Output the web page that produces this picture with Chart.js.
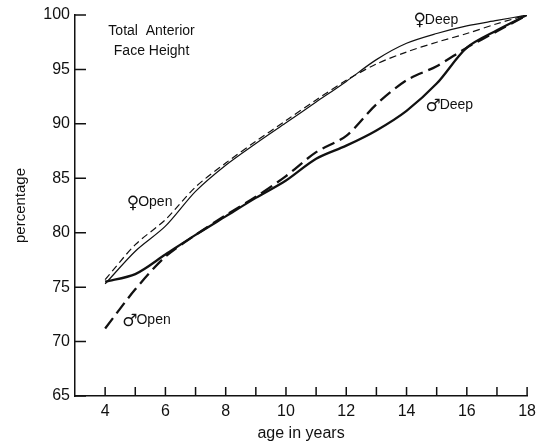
<!DOCTYPE html>
<html>
<head>
<meta charset="utf-8">
<script src="https://cdn.jsdelivr.net/npm/chart.js@4"></script>
<style>
  html, body { margin: 0; padding: 0; background: #fff; }
  #wrap { width: 542px; height: 446px; }
</style>
</head>
<body>
<div id="wrap"><canvas id="chart" width="542" height="446"></canvas></div>
<script>
const ages = [4, 5, 6, 7, 8, 9, 10, 11, 12, 13, 14, 15, 16, 17, 18];
const femaleDeep = [75.3, 78.3, 80.6, 83.8, 86.2, 88.2, 90.1, 92.0, 93.9, 95.9, 97.4, 98.3, 99.0, 99.5, 100];
const femaleOpen = [75.7, 78.9, 81.2, 84.2, 86.4, 88.4, 90.3, 92.2, 94.0, 95.5, 96.6, 97.5, 98.3, 99.2, 100];
const maleDeep = [75.5, 76.2, 78.0, 79.8, 81.5, 83.2, 84.8, 86.8, 88.0, 89.4, 91.2, 93.7, 97.0, 98.6, 100];
const maleOpen = [71.2, 74.8, 77.8, 79.8, 81.6, 83.3, 85.2, 87.4, 88.9, 91.8, 94.0, 95.3, 97.0, 98.5, 100];
const yTicks = [65, 70, 75, 80, 85, 90, 95, 100];

const INK = '#111';
const FONT = '"Liberation Sans", "DejaVu Sans", sans-serif';

const toPoints = vals => vals.map((v, i) => ({ x: ages[i], y: v }));

// tick marks point into the plot, and the text labels on the plot
const insideTicks = {
  id: 'insideTicks',
  afterDraw(chart) {
    const { ctx, scales: { x, y } } = chart;
    ctx.save();
    ctx.strokeStyle = INK;
    ctx.lineWidth = 1.5;
    ctx.beginPath();
    for (let a = 4; a <= 18; a++) {
      const px = x.getPixelForValue(a);
      ctx.moveTo(px, y.bottom);
      ctx.lineTo(px, y.bottom - 9);
    }
    yTicks.forEach(v => {
      const py = y.getPixelForValue(v);
      ctx.moveTo(x.left, py);
      ctx.lineTo(x.left + 11, py);
    });
    ctx.stroke();

    ctx.fillStyle = INK;
    ctx.textBaseline = 'middle';
    ctx.font = '14px ' + FONT;
    ctx.textAlign = 'center';
    ctx.fillText('Total  Anterior', x.getPixelForValue(5.54), y.getPixelForValue(98.5));
    ctx.fillText('Face Height', x.getPixelForValue(5.54), y.getPixelForValue(96.7));

    ctx.textAlign = 'left';
    const labels = [
      ['\u2640', 'Deep', 14.26, 99.55],
      ['\u2642', 'Deep', 14.66, 91.7],
      ['\u2640', 'Open', 4.75, 82.8],
      ['\u2642', 'Open', 4.6, 71.95]
    ];
    labels.forEach(([sym, t, a, v]) => {
      const px = x.getPixelForValue(a);
      const py = y.getPixelForValue(v);
      ctx.font = '17px "DejaVu Sans", sans-serif';
      ctx.fillText(sym, px - 1, py + 1);
      const w = ctx.measureText(sym).width;
      ctx.font = '14px ' + FONT;
      ctx.fillText(t, px + w - 2, py);
    });
    ctx.restore();
  }
};

new Chart(document.getElementById('chart'), {
  type: 'line',
  data: {
    datasets: [
      { label: 'Female deep', data: toPoints(femaleDeep), borderWidth: 1.2 },
      { label: 'Female open', data: toPoints(femaleOpen), borderWidth: 1.2, borderDash: [7, 4] },
      { label: 'Male deep', data: toPoints(maleDeep), borderWidth: 2.3 },
      { label: 'Male open', data: toPoints(maleOpen), borderWidth: 2.3, borderDash: [13, 6] }
    ]
  },
  options: {
    responsive: false,
    animation: false,
    layout: { padding: { top: 15, right: 11, left: 0, bottom: 0 } },
    elements: {
      point: { radius: 0 },
      line: { borderColor: INK, tension: 0.3, fill: false }
    },
    plugins: { legend: { display: false }, tooltip: { enabled: false } },
    scales: {
      x: {
        type: 'linear',
        min: 3,
        max: 18,
        afterFit: s => { s.height = 50; },
        grid: { display: false, drawTicks: false, tickLength: 0 },
        border: { display: true, color: INK, width: 1.5 },
        ticks: {
          stepSize: 1,
          autoSkip: false,
          maxRotation: 0,
          padding: 6,
          color: INK,
          font: { family: FONT, size: 16 },
          callback: v => (v % 2 === 0 ? v : '')
        },
        title: {
          display: true,
          text: 'age in years',
          color: INK,
          font: { family: FONT, size: 16 },
          padding: { top: 0, bottom: 3 }
        }
      },
      y: {
        min: 65,
        max: 100,
        afterFit: s => { s.width = 75; },
        grid: { display: false, drawTicks: false, tickLength: 0 },
        border: { display: true, color: INK, width: 1.5 },
        ticks: {
          stepSize: 5,
          padding: 5,
          color: INK,
          font: { family: FONT, size: 16 }
        },
        title: {
          display: true,
          text: 'percentage',
          color: INK,
          font: { family: FONT, size: 15 },
          padding: { top: 12, bottom: 12 }
        }
      }
    }
  },
  plugins: [insideTicks]
});
</script>
</body>
</html>
